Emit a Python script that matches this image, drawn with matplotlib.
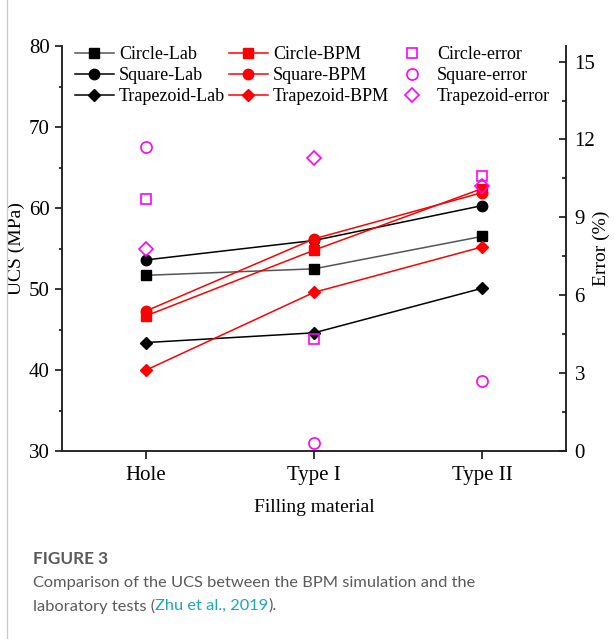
import matplotlib
matplotlib.use("Agg")
import matplotlib.pyplot as plt
from matplotlib.ticker import MultipleLocator
from matplotlib.lines import Line2D

plt.rcParams['font.family'] = ['Liberation Serif', 'DejaVu Serif']

materials = ["Hole", "Type I", "Type II"]

circle_lab = [51.7, 52.5, 56.5]
square_lab = [53.6, 56.0, 60.3]
trapezoid_lab = [43.4, 44.6, 50.1]

circle_bpm = [46.7, 54.8, 62.4]
square_bpm = [47.3, 56.2, 61.9]
trapezoid_bpm = [40.0, 49.6, 55.2]

circle_err = [9.7, 4.3, 10.6]
square_err = [11.7, 0.3, 2.7]
trapezoid_err = [7.8, 11.3, 10.2]

fig = plt.figure(figsize=(6.14, 6.39), dpi=100)
ax = fig.add_axes([0.101, 0.294, 0.821, 0.634])
ax2 = ax.twinx()

x = list(range(len(materials)))
ms = 7
lw = 1.1

h1 = ax.plot(x, circle_lab, color='#555555', lw=lw, marker='s', ms=ms-0.5, mfc='black', mec='black', label='Circle-Lab')[0]
h2 = ax.plot(x, square_lab, color='black', lw=lw, marker='o', ms=ms+0.5, label='Square-Lab')[0]
h3 = ax.plot(x, trapezoid_lab, color='black', lw=lw, marker='D', ms=ms-0.5, label='Trapezoid-Lab')[0]
h4 = ax.plot(x, circle_bpm, color='red', lw=lw, marker='s', ms=ms-0.5, label='Circle-BPM')[0]
h5 = ax.plot(x, square_bpm, color='red', lw=lw, marker='o', ms=ms+0.5, label='Square-BPM')[0]
h6 = ax.plot(x, trapezoid_bpm, color='red', lw=lw, marker='D', ms=ms-0.5, label='Trapezoid-BPM')[0]

h7 = ax2.plot(x, circle_err, ls='none', marker='s', ms=7.5, mfc='none', mec='magenta', mew=1.2, label='Circle-error')[0]
h8 = ax2.plot(x, square_err, ls='none', marker='o', ms=8, mfc='none', mec='magenta', mew=1.2, label='Square-error')[0]
h9 = ax2.plot(x, trapezoid_err, ls='none', marker='D', ms=7, mfc='none', mec='magenta', mew=1.2, label='Trapezoid-error')[0]

ax.set_xlim(-0.5, 2.5)
ax.set_ylim(30, 80)
ax2.set_ylim(0, 15.6)

ax.set_xticks(x)
ax.set_xticklabels(materials)
ax.yaxis.set_major_locator(MultipleLocator(10))
ax.yaxis.set_minor_locator(MultipleLocator(5))
ax2.yaxis.set_major_locator(MultipleLocator(3))
ax2.yaxis.set_minor_locator(MultipleLocator(1.5))

for a in (ax, ax2):
    a.spines['top'].set_visible(False)
    for s in a.spines.values():
        s.set_linewidth(1.1)
        s.set_color('#222222')

ax.tick_params(axis='x', direction='out', length=6, width=1.1, labelsize=15, pad=5)
ax.tick_params(axis='y', which='major', direction='out', length=5, width=1.1, labelsize=15, pad=4)
ax.tick_params(axis='y', which='minor', direction='out', length=2.5, width=1.1)
ax2.tick_params(axis='y', which='major', direction='in', length=5, width=1.1, labelsize=15, pad=6)
ax2.tick_params(axis='y', which='minor', direction='in', length=3, width=1.1)

ax.set_xlabel("Filling material", fontsize=14, labelpad=10)
ax.set_ylabel("UCS (MPa)", fontsize=14)
ax2.set_ylabel("Error (%)", fontsize=14)
ax.yaxis.set_label_coords(-0.073, 0.5)
ax2.yaxis.set_label_coords(1.052, 0.5)

handles = [h1, h2, h3, h4, h5, h6, h7, h8, h9]
ax2.legend(handles, [h.get_label() for h in handles], ncol=3, loc='upper left',
           bbox_to_anchor=(0.025, 1.0), frameon=False, fontsize=13,
           handlelength=2.2, handletextpad=0.25, columnspacing=0.2,
           labelspacing=0.22, borderpad=0.0, borderaxespad=0.0)

# page frame line on the left
fig.add_artist(Line2D([7 / 614, 7 / 614], [0, 1], transform=fig.transFigure,
                      color='#cccccc', lw=1))

cap_font = 'Lato'
cap_size = 11.8
fig.text(33 / 614, 1 - 559 / 639, "FIGURE 3", fontsize=cap_size + 0.5, fontweight='bold',
         color='#5a5a5a', family=cap_font, va='center')
fig.text(33 / 614, 1 - 583 / 639,
         "Comparison of the UCS between the BPM simulation and the",
         fontsize=cap_size, color='#5a5a5a', family=cap_font, va='center')
t1 = fig.text(33 / 614, 1 - 606 / 639, "laboratory tests (", fontsize=cap_size,
              color='#5a5a5a', family=cap_font, va='center')
fig.canvas.draw()
r = fig.canvas.get_renderer()
bb = t1.get_window_extent(r)
t2 = fig.text(bb.x1 / fig.bbox.width, 1 - 606 / 639, "Zhu et al., 2019",
              fontsize=cap_size, color='#1aa6bd', family=cap_font, va='center')
bb2 = t2.get_window_extent(r)
fig.text(bb2.x1 / fig.bbox.width, 1 - 606 / 639, ").", fontsize=cap_size,
         color='#5a5a5a', family=cap_font, va='center')

fig.savefig("out.png", dpi=100)
